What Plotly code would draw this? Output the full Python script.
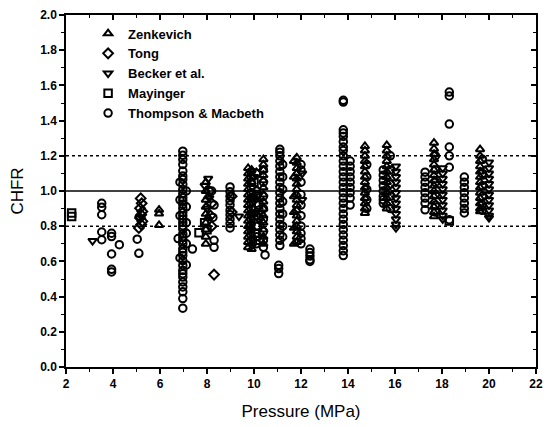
import plotly.graph_objects as go

# ---- data: critical heat flux ratio (CHFR) vs. pressure, by data source ----
zenkevich_p = [5.96, 5.96, 5.96,
               7.95, 7.95, 7.95, 7.95, 7.95, 7.95, 7.95, 7.95, 7.95, 8.05, 8.05,
               9.75, 9.75, 9.75, 9.75, 9.75, 9.75, 9.75, 9.75, 9.75, 9.75, 9.75, 9.75, 9.75, 9.75, 9.75, 9.75,
               9.9, 9.9, 9.9, 9.9, 9.9, 9.9, 9.9,
               10.4, 10.4, 10.4, 10.4, 10.4, 10.4, 10.4, 10.4, 10.4, 10.4, 10.4, 10.4, 10.4, 10.4,
               11.82, 11.82, 11.82, 11.82, 11.82, 11.82, 11.82, 11.82, 11.82, 11.82, 11.82, 11.82, 11.82, 11.82, 11.82, 11.82, 11.82,
               11.7, 11.7, 11.7, 11.7, 11.7, 11.7,
               14.72, 14.72, 14.72, 14.72, 14.72, 14.72, 14.72, 14.72, 14.72, 14.72, 14.72, 14.72, 14.72, 14.72,
               15.65, 15.65, 15.65, 15.65, 15.65, 15.65, 15.65, 15.65, 15.65, 15.65, 15.65, 15.65, 15.65,
               17.66, 17.66, 17.66, 17.66, 17.66, 17.66, 17.66, 17.66, 17.66, 17.66, 17.66, 17.66, 17.66, 17.66, 17.66,
               19.62, 19.62, 19.62, 19.62, 19.62, 19.62, 19.62, 19.62, 19.62, 19.62, 19.62, 19.62, 19.62]
zenkevich_chfr = [0.893, 0.871, 0.806,
                  1.05, 1.00, 0.95, 0.91, 0.87, 0.82, 0.78, 0.74, 0.70, 0.97, 0.85,
                  1.13, 1.10, 1.07, 1.04, 1.01, 0.98, 0.95, 0.92, 0.89, 0.86, 0.83, 0.80, 0.77, 0.74, 0.71, 0.68,
                  1.12, 1.05, 0.96, 0.88, 0.79, 0.70, 0.67,
                  1.18, 1.15, 1.12, 1.09, 1.06, 1.02, 0.98, 0.94, 0.90, 0.86, 0.82, 0.78, 0.74, 0.70,
                  1.19, 1.16, 1.13, 1.10, 1.07, 1.04, 1.01, 0.98, 0.95, 0.92, 0.89, 0.86, 0.83, 0.80, 0.77, 0.74, 0.71,
                  1.17, 1.08, 0.97, 0.88, 0.79, 0.70,
                  1.255, 1.23, 1.20, 1.17, 1.14, 1.11, 1.08, 1.05, 1.02, 0.99, 0.96, 0.93, 0.90, 0.875,
                  1.26, 1.23, 1.20, 1.17, 1.14, 1.11, 1.08, 1.05, 1.02, 0.99, 0.96, 0.93, 0.90,
                  1.274, 1.24, 1.21, 1.18, 1.15, 1.12, 1.09, 1.06, 1.03, 1.00, 0.97, 0.94, 0.91, 0.88, 0.856,
                  1.237, 1.20, 1.17, 1.14, 1.11, 1.08, 1.05, 1.02, 0.99, 0.96, 0.93, 0.90, 0.884]

tong_p = [5.18, 5.22, 5.15, 5.25, 5.20, 5.15, 5.25, 5.20, 5.10,
          8.10, 8.20, 8.15, 8.20, 8.30,
          9.05, 9.05,
          10.10, 10.00, 10.20]
tong_chfr = [0.958, 0.930, 0.902, 0.884, 0.865, 0.847, 0.828, 0.810, 0.790,
             1.00, 0.93, 0.86, 0.80, 0.525,
             0.97, 0.88,
             1.10, 0.95, 0.85]

becker_p = [3.13, 5.12, 8.05, 7.90, 8.10, 8.00, 9.36, 10.00, 10.20, 10.10, 12.05, 12.05,
            16.04, 16.04, 16.04, 16.04, 16.04, 16.04, 16.04, 16.04, 16.04, 16.04, 16.04, 16.04, 16.04,
            18.03, 18.03, 18.03, 18.03, 18.03, 18.03, 18.03, 18.03, 18.03, 18.03, 18.03,
            20.0, 20.0, 20.0, 20.0, 20.0, 20.0, 20.0, 20.0, 20.0, 20.0, 20.0, 20.0]
becker_chfr = [0.717, 0.847, 1.07, 1.03, 0.96, 0.90, 0.856, 1.08, 0.98, 0.88, 1.10, 0.95,
               1.14, 1.11, 1.08, 1.05, 1.02, 0.99, 0.96, 0.93, 0.90, 0.87, 0.84, 0.81, 0.79,
               1.13, 1.10, 1.07, 1.04, 1.01, 0.98, 0.95, 0.92, 0.89, 0.86, 0.84,
               1.163, 1.13, 1.10, 1.07, 1.04, 1.01, 0.98, 0.95, 0.92, 0.89, 0.86, 0.847]

mayinger_p = [2.24, 2.24, 7.66, 7.90, 8.00, 10.00, 10.10, 10.20, 10.00, 10.15, 10.05, 10.25, 18.31]
mayinger_chfr = [0.875, 0.855, 0.763, 0.82, 0.78, 1.05, 0.98, 0.92, 0.86, 0.80, 0.76, 0.72, 0.83]

thompson_p = [3.52, 3.52, 3.52, 3.52, 3.52,
              3.94, 3.94, 3.94, 3.94, 3.94,
              4.27, 5.03, 5.10,
              6.97, 6.97, 6.97, 6.97, 6.97, 6.97, 6.97, 6.97, 6.97, 6.97, 6.97, 6.97, 6.97,
              6.97, 6.97, 6.97, 6.97, 6.97, 6.97, 6.97, 6.97, 6.97, 6.97, 6.97, 6.97, 6.97,
              6.97, 6.97, 6.97, 6.97, 6.97, 6.97, 6.97, 6.97, 6.97, 6.97, 6.97,
              6.85, 6.85, 6.85, 6.77, 6.85,
              7.12, 7.12, 7.12, 7.12, 7.12, 7.12, 7.38,
              8.20, 8.30, 8.25, 8.30, 8.30,
              8.98, 8.98, 8.98, 8.98, 8.98, 8.98, 8.98, 8.98, 8.98, 8.98,
              9.88, 9.88, 9.88, 9.88, 9.88, 9.88, 9.88, 9.88, 9.88, 9.88, 9.88, 9.88, 9.88, 9.88,
              10.10, 10.10, 10.10, 10.10, 10.10, 10.10, 10.10,
              10.40, 10.40, 10.40, 10.40, 10.40, 10.40, 10.40, 10.40, 10.47,
              11.10, 11.10, 11.10, 11.10, 11.10, 11.10, 11.10, 11.10, 11.10, 11.10, 11.10, 11.10,
              11.10, 11.10, 11.10, 11.10, 11.10, 11.10, 11.10, 11.10, 11.05, 11.05, 11.05,
              11.22, 11.22, 11.22, 11.22, 11.22, 11.22, 11.22,
              12.00, 12.00, 12.00, 12.00, 12.00, 12.00, 12.00, 12.00, 12.00, 12.00,
              12.38, 12.38, 12.38, 12.38, 12.38,
              13.80, 13.80, 13.80, 13.80, 13.80, 13.80, 13.80, 13.80, 13.80, 13.80, 13.80, 13.80, 13.80, 13.80,
              13.80, 13.80, 13.80, 13.80, 13.80, 13.80, 13.80, 13.80, 13.80, 13.80, 13.80, 13.80, 13.80, 13.80,
              14.09, 14.09, 14.09, 14.09, 14.09, 14.09, 14.09, 14.09, 14.09,
              14.80, 14.80, 14.80, 14.80, 14.80,
              15.50, 15.50, 15.50, 15.50, 15.50, 15.50, 15.50, 15.50,
              15.80, 15.80, 15.80, 15.80, 15.80,
              17.28, 17.28, 17.28, 17.28, 17.28, 17.28, 17.28, 17.28,
              17.72, 17.72, 17.72, 17.72, 17.72, 17.72,
              18.31, 18.31, 18.31, 18.31, 18.31, 18.31, 18.31,
              18.95, 18.95, 18.95, 18.95, 18.95, 18.95, 18.95, 18.95,
              19.72, 19.72, 19.72, 19.72, 19.72, 19.72]
thompson_chfr = [0.930, 0.908, 0.865, 0.767, 0.723,
                 0.760, 0.741, 0.642, 0.555, 0.540,
                 0.695, 0.726, 0.646,
                 1.226, 1.203, 1.179, 1.150, 1.113, 1.085, 1.066, 1.038, 1.009, 0.985, 0.962, 0.944, 0.925,
                 0.902, 0.878, 0.859, 0.840, 0.821, 0.803, 0.784, 0.756, 0.737, 0.718, 0.699, 0.671, 0.652,
                 0.633, 0.605, 0.577, 0.549, 0.530, 0.511, 0.483, 0.455, 0.427, 0.389, 0.334,
                 1.05, 0.95, 0.86, 0.73, 0.62,
                 1.00, 0.91, 0.82, 0.76, 0.70, 0.58, 0.67,
                 1.00, 0.92, 0.85, 0.72, 0.68,
                 1.023, 0.996, 0.970, 0.945, 0.920, 0.890, 0.865, 0.840, 0.815, 0.790,
                 1.11, 1.08, 1.05, 1.02, 0.99, 0.96, 0.93, 0.90, 0.87, 0.84, 0.81, 0.78, 0.75, 0.72,
                 1.10, 1.00, 0.93, 0.86, 0.80, 0.74, 0.70,
                 1.12, 1.05, 0.97, 0.90, 0.84, 0.77, 0.72, 0.68, 0.637,
                 1.237, 1.220, 1.200, 1.170, 1.140, 1.110, 1.080, 1.050, 1.020, 0.990, 0.960, 0.930,
                 0.900, 0.870, 0.840, 0.810, 0.780, 0.750, 0.720, 0.690, 0.578, 0.559, 0.531,
                 1.15, 1.08, 1.01, 0.94, 0.87, 0.80, 0.74,
                 1.15, 1.12, 1.05, 0.98, 0.92, 0.86, 0.80, 0.76, 0.73, 0.70,
                 0.670, 0.650, 0.630, 0.610, 0.600,
                 1.515, 1.505, 1.348, 1.330, 1.310, 1.280, 1.250, 1.230, 1.200, 1.170, 1.140, 1.110, 1.080, 1.050,
                 1.020, 0.990, 0.960, 0.930, 0.900, 0.870, 0.840, 0.810, 0.780, 0.750, 0.720, 0.690, 0.660, 0.633,
                 1.17, 1.14, 1.11, 1.08, 1.05, 1.02, 0.99, 0.96, 0.92,
                 1.15, 1.08, 1.01, 0.95, 0.90,
                 1.12, 1.09, 1.06, 1.03, 1.00, 0.97, 0.95, 0.93,
                 1.20, 1.12, 1.04, 0.97, 0.90,
                 1.107, 1.080, 1.050, 1.020, 0.990, 0.960, 0.930, 0.893,
                 1.20, 1.12, 1.05, 0.98, 0.92, 0.88,
                 1.562, 1.540, 1.380, 1.250, 1.200, 1.135, 0.837,
                 1.079, 1.050, 1.020, 0.990, 0.960, 0.930, 0.900, 0.875,
                 1.18, 1.10, 1.03, 0.97, 0.92, 0.89]

series_names = ["Zenkevich", "Tong", "Becker et al.", "Mayinger", "Thompson & Macbeth"]
series_symbols = ["triangle-up-open", "diamond-open", "triangle-down-open", "square-open", "circle-open"]
series_data = [(zenkevich_p, zenkevich_chfr), (tong_p, tong_chfr), (becker_p, becker_chfr),
               (mayinger_p, mayinger_chfr), (thompson_p, thompson_chfr)]

# reference lines: CHFR = 1 (solid) and +/-20 % band (dotted)
ref_solid = [1.0]
ref_dotted = [0.8, 1.2]

x_range = [2, 22]
y_range = [0, 2.0]

FONT = "Liberation Sans, Arial, Helvetica, sans-serif"

fig = go.Figure()
for name, sym, (px, cy) in zip(series_names, series_symbols, series_data):
    fig.add_trace(go.Scatter(
        x=px, y=cy, mode="markers", name=name,
        marker=dict(symbol=sym, size=7.5, color="black", line=dict(width=2, color="black")),
    ))

# empty trace so the mirrored top/right axes are drawn
fig.add_trace(go.Scatter(x=[], y=[], xaxis="x2", yaxis="y2", showlegend=False, hoverinfo="skip"))

for v in ref_solid:
    fig.add_shape(type="line", xref="x", yref="y", x0=x_range[0], x1=x_range[1], y0=v, y1=v,
                  line=dict(color="black", width=1.6), layer="below")
for v in ref_dotted:
    fig.add_shape(type="line", xref="x", yref="y", x0=x_range[0], x1=x_range[1], y0=v, y1=v,
                  line=dict(color="black", width=1.6, dash="dot"), layer="below")

tickfont = dict(family=FONT, size=12, color="black", weight="bold")
common = dict(showgrid=False, zeroline=False, showline=True, linecolor="black", linewidth=1.5,
              ticks="outside", ticklen=5, tickwidth=1.5, tickcolor="black")

fig.update_layout(
    width=555, height=427,
    margin=dict(l=66, r=19, t=8, b=60),
    paper_bgcolor="white", plot_bgcolor="white",
    font=dict(family=FONT, color="black"),
    xaxis=dict(range=x_range, dtick=2, tick0=0, tickfont=tickfont,
               minor=dict(dtick=1, ticks="outside", ticklen=3, tickwidth=1.2, tickcolor="black"),
               title=dict(text="Pressure (MPa)", font=dict(family=FONT, size=17, color="black")),
               **common),
    yaxis=dict(range=y_range, dtick=0.2, tick0=0, tickformat=".1f", tickfont=tickfont,
               minor=dict(dtick=0.1, ticks="outside", ticklen=3, tickwidth=1.2, tickcolor="black"),
               title=dict(text="CHFR", font=dict(family=FONT, size=17, color="black"), standoff=12),
               **common),
    xaxis2=dict(range=x_range, overlaying="x", side="top", anchor="y2", dtick=2, tick0=0,
                showticklabels=False, showgrid=False, zeroline=False, showline=True,
                linecolor="black", linewidth=1.5, ticks="inside", ticklen=5, tickwidth=1.5,
                tickcolor="black",
                minor=dict(dtick=1, ticks="inside", ticklen=3, tickwidth=1.2, tickcolor="black")),
    yaxis2=dict(range=y_range, overlaying="y", side="right", anchor="x2", dtick=0.2, tick0=0,
                showticklabels=False, showgrid=False, zeroline=False, showline=True,
                linecolor="black", linewidth=1.5, ticks="inside", ticklen=5, tickwidth=1.5,
                tickcolor="black",
                minor=dict(dtick=0.1, ticks="inside", ticklen=3, tickwidth=1.2, tickcolor="black")),
    legend=dict(x=0.047, y=0.99, xanchor="left", yanchor="top", bgcolor="rgba(0,0,0,0)",
                font=dict(family=FONT, size=13, color="black", weight="bold"),
                tracegroupgap=0, itemwidth=30),
    showlegend=True,
)

fig.write_html("out.html")
